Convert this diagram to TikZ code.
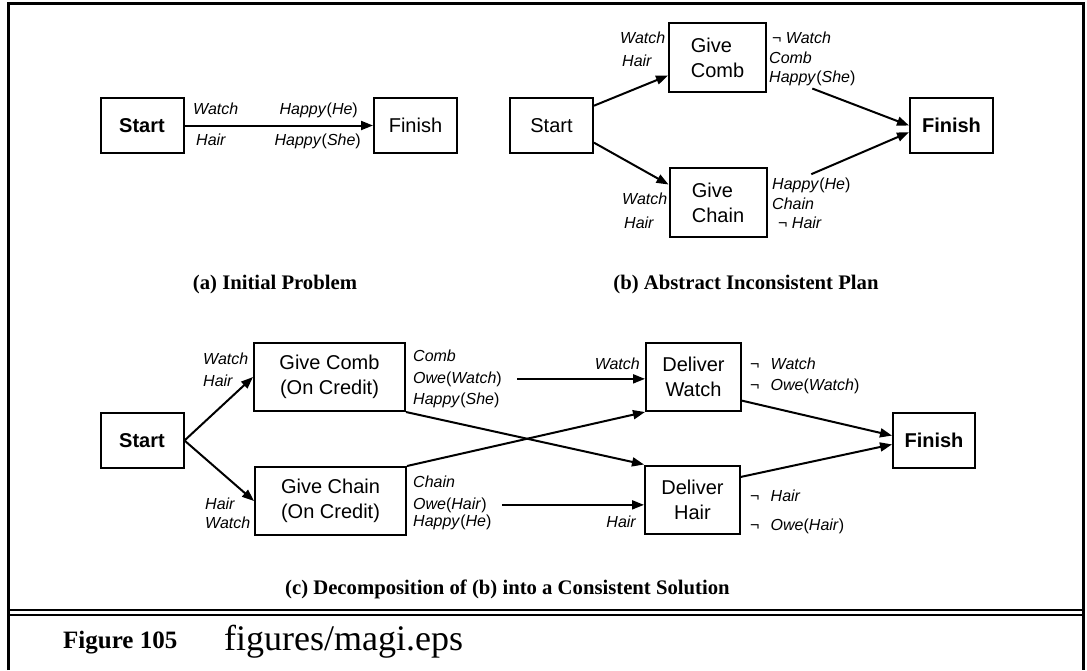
\documentclass[tikz,border=0pt]{standalone}
\usepackage{fontspec}
\setmainfont{Liberation Serif}
\setsansfont{Liberation Sans}
\usetikzlibrary{arrows.meta, positioning}
\newcommand{\prd}[2]{#1\textup{(}#2\textup{)}}
\newcommand{\nt}{¬\hspace{0.7em}}

\begin{document}
\begin{tikzpicture}[
    x=1pt, y=-1pt,
    >={Triangle[length=12pt, width=9pt]},
    box/.style={draw, line width=2pt, inner sep=0pt, align=center,
                font=\sffamily\fontsize{20}{25}\selectfont},
    boldbox/.style={box, font=\sffamily\bfseries\fontsize{20}{25}\selectfont},
    leftbox/.style={box, align=left},
    lab/.style={inner sep=0pt, font=\sffamily\itshape\fontsize{16}{20}\selectfont},
    subcap/.style={inner sep=0pt, font=\bfseries\fontsize{20.7}{24}\selectfont},
    arr/.style={->, line width=2pt}
  ]
  \useasboundingbox (0,0) rectangle (1087,670);

  % Frame
  \draw[line width=3pt] (8.5,670) -- (8.5,3) -- (1083,3) -- (1083,670);
  \draw[line width=2pt] (8.5,610) -- (1083,610) (8.5,614.5) -- (1083,614.5);

  % (a) Initial problem
  \node[boldbox, minimum width=83pt, minimum height=55pt] (startA) at (142,125.5) {Start};
  \node[box, minimum width=83pt, minimum height=55pt] (finishA) at (415.5,125.5) {Finish};
  \draw[arr] (startA) -- (finishA);
  \node[lab, anchor=base west] (preWatchA) at (193,114) {Watch};
  \node[lab, anchor=base west] (preHairA) at (196,145) {Hair};
  \node[lab, anchor=base east] (effHeA) at (358,114) {\prd{Happy}{He}};
  \node[lab, anchor=base east] (effSheA) at (361,145) {\prd{Happy}{She}};
  \node[subcap] (capA) at (275,285) {(a) Initial Problem};

  % (b) Abstract inconsistent plan
  \node[box, minimum width=83pt, minimum height=55pt] (startB) at (551.5,125.5) {Start};
  \node[leftbox, minimum width=97pt, minimum height=69pt] (combB) at (717.5,57.5) {Give\\Comb};
  \node[leftbox, minimum width=97pt, minimum height=69pt] (chainB) at (718,202.5) {Give\\Chain};
  \node[boldbox, minimum width=83pt, minimum height=55pt] (finishB) at (951.5,125.5) {Finish};

  \node[lab, anchor=base west] (preWatchB1) at (620,43) {Watch};
  \node[lab, anchor=base west] (preHairB1) at (622,66) {Hair};
  \node[lab, anchor=base west] (negWatchB) at (772,43) {¬ Watch};
  \node[lab, anchor=base west] (effCombB) at (769,63) {Comb};
  \node[lab, anchor=base west] (effSheB) at (769,82) {\prd{Happy}{She}};
  \node[lab, anchor=base west] (preWatchB2) at (622,204) {Watch};
  \node[lab, anchor=base west] (preHairB2) at (624,228) {Hair};
  \node[lab, anchor=base west] (effHeB) at (772,189) {\prd{Happy}{He}};
  \node[lab, anchor=base west] (effChainB) at (772,209) {Chain};
  \node[lab, anchor=base west] (negHairB) at (778,228) {¬ Hair};

  \draw[arr] (startB.25) -- (combB.200);
  \draw[arr] (startB.-22) -- (chainB.160);
  \draw[arr] (effSheB.south) ++(0,3) -- (finishB.west);
  \draw[arr] (effHeB.north) ++(0,-3) -- (finishB.189);
  \node[subcap] (capB) at (746,285) {(b) Abstract Inconsistent Plan};

  % (c) Decomposition into a consistent solution
  \node[boldbox, minimum width=83pt, minimum height=55pt] (startC) at (142,440.5) {Start};
  \node[box, minimum width=151pt, minimum height=68pt] (combC) at (329.5,377) {Give Comb\\(On Credit)};
  \node[box, minimum width=151pt, minimum height=68pt] (chainC) at (330.5,501) {Give Chain\\(On Credit)};
  \node[box, minimum width=95pt, minimum height=68pt] (watchC) at (693.5,377) {Deliver\\Watch};
  \node[box, minimum width=95pt, minimum height=68pt] (hairC) at (692.5,499.5) {Deliver\\Hair};
  \node[boldbox, minimum width=82pt, minimum height=55pt] (finishC) at (934,440) {Finish};

  \node[lab, anchor=base west] (preWatchC1) at (203,364) {Watch};
  \node[lab, anchor=base west] (preHairC1) at (203,386) {Hair};
  \node[lab, anchor=base west] (preHairC2) at (205,509) {Hair};
  \node[lab, anchor=base west] (preWatchC2) at (205,528) {Watch};
  \node[lab, anchor=base west] (effCombC) at (413,361) {Comb};
  \node[lab, anchor=base west] (effOweWC) at (413,383) {\prd{Owe}{Watch}};
  \node[lab, anchor=base west] (effSheC) at (413,404) {\prd{Happy}{She}};
  \node[lab, anchor=base west] (effChainC) at (413,487) {Chain};
  \node[lab, anchor=base west] (effOweHC) at (413,509) {\prd{Owe}{Hair}};
  \node[lab, anchor=base west] (effHeC) at (413,526) {\prd{Happy}{He}};
  \node[lab, anchor=base east] (preDelW) at (640,369) {Watch};
  \node[lab, anchor=base east] (preDelH) at (636,527) {Hair};
  \node[lab, anchor=base west] (negWatchC) at (750,369) {\nt Watch};
  \node[lab, anchor=base west] (negOweWC) at (750,390) {\nt\prd{Owe}{Watch}};
  \node[lab, anchor=base west] (negHairC) at (750,501) {\nt Hair};
  \node[lab, anchor=base west] (negOweHC) at (750,530) {\nt\prd{Owe}{Hair}};

  \draw[arr] (startC.east) -- (combC.west);
  \draw[arr] (startC.east) -- (chainC.west);
  \draw[arr, shorten <=15pt] (effOweWC.east) -- (effOweWC.east -| watchC.west);
  \draw[arr, shorten <=15pt] (effOweHC.east) -- (effOweHC.east -| hairC.west);
  \draw[arr] (combC.south east) -- (hairC.north west);
  \draw[arr] (chainC.north east) -- (watchC.south west);
  \draw[arr] (watchC.-26) -- (finishC.174);
  \draw[arr] (hairC.25) -- (finishC.186);
  \node[subcap, anchor=west] (capC) at (285,589) {(c) Decomposition of (b) into a Consistent Solution};

  % Figure caption
  \node[inner sep=0pt, anchor=base west, font=\bfseries\fontsize{25}{28}\selectfont]
    (figNum) at (63,648) {Figure 105};
  \node[inner sep=0pt, anchor=base west, font=\fontsize{36}{40}\selectfont]
    (figFile) at (224,650) {figures/magi.eps};
\end{tikzpicture}
\end{document}
